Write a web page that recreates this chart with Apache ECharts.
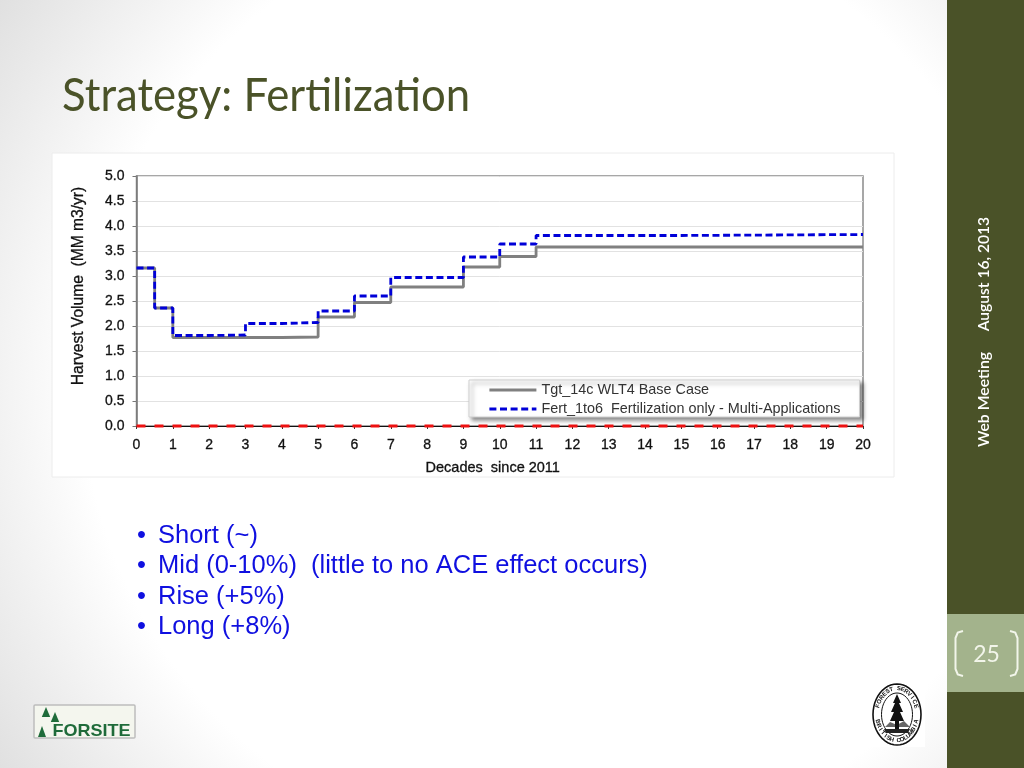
<!DOCTYPE html>
<html><head><meta charset="utf-8">
<style>html,body{margin:0;padding:0;width:1024px;height:768px;overflow:hidden}#c{width:1024px;height:768px}</style>
<script src="https://cdn.jsdelivr.net/npm/echarts@6/dist/echarts.min.js"></script>
</head><body><div id="c"></div>
<script>
const titleText = 'Strategy: Fertilization';
const xName = 'Decades  since 2011';
const yName = 'Harvest Volume  (MM m3/yr)';
const baseName = 'Tgt_14c WLT4 Base Case';
const fertName = 'Fert_1to6  Fertilization only - Multi-Applications';
const baseX = [0, 0.5, 1, 4, 5, 6, 7, 9, 10, 11, 20];
const baseY = [3.16, 2.36, 1.77, 1.78, 2.18, 2.47, 2.78, 3.18, 3.39, 3.58, 3.58];
const fertX = [0, 0.5, 1, 2, 3, 4, 5, 6, 7, 9, 10, 11, 15, 20];
const fertY = [3.16, 2.36, 1.81, 1.82, 2.05, 2.07, 2.30, 2.60, 2.97, 3.38, 3.64, 3.81, 3.83, 3.83];
const zeroX = [0, 20];
const zeroY = [0, 0];
const bullets = ['Short (~)', 'Mid (0-10%)  (little to no ACE effect occurs)', 'Rise (+5%)', 'Long (+8%)'];
const dateText = 'August 16, 2013';
const meetingText = 'Web Meeting';
const pageText = '25';

const zip = (a, b) => a.map((v, i) => [v, b[i]]);
const ui = [];
const t = (text, x, y, font, fill, extra, align) => ui.push(Object.assign({
  type: 'text', x, y, silent: true, style: { text, font, fill, textAlign: align || 'left', textVerticalAlign: 'middle' }
}, extra || {}));
const ell = (cx, cy, rx, ry, style) => {
  const pts = [];
  for (let i = 0; i < 48; i++) { const a = i / 48 * Math.PI * 2; pts.push([cx + rx * Math.cos(a), cy + ry * Math.sin(a)]); }
  ui.push({ type: 'polygon', shape: { points: pts }, style });
};

// slide background
ui.push({ type: 'rect', z: -10, shape: { x: 0, y: 0, width: 947, height: 768 }, style: {
  fill: { type: 'radial', x: 0.59, y: 0.5, r: 1, colorStops: [{ offset: 0, color: '#ffffff' }, { offset: 0.62, color: '#ffffff' }, { offset: 0.884, color: '#e0e0e0' }, { offset: 1, color: '#d0d0d0' }] } } });
// sidebar
ui.push({ type: 'rect', z: -9, shape: { x: 947, y: 0, width: 77, height: 768 }, style: { fill: '#4a5228' } });
ui.push({ type: 'rect', z: -9, shape: { x: 947, y: 614, width: 77, height: 78 }, style: { fill: '#a3b38c' } });
[[963, 955.5], [1010, 1017.5]].forEach(b => {
  const m = b[1] + (b[0] - b[1]) * 0.3;
  ui.push({ type: 'polyline', z: -8,
    shape: { points: [[b[0], 631], [m, 632.5], [b[1], 638], [b[1], 669], [m, 674.5], [b[0], 676]] },
    style: { fill: 'none', stroke: '#f2f5ea', lineWidth: 2 } });
});
t(pageText, 986.5, 655, '23px Lato', '#f2f5ea', null, 'center');
t(dateText, 984, 274, '600 15.6px Lato', '#ffffff', { rotation: Math.PI / 2 }, 'center');
t(meetingText, 984, 399.5, '600 15.8px Lato', '#ffffff', { rotation: Math.PI / 2 }, 'center');
// title
t(titleText, 62, 96, '46px Lato', '#4a5228', { scaleX: 0.95 });
// chart panel
ui.push({ type: 'rect', z: -5, shape: { x: 52, y: 153, width: 842, height: 324 }, style: { fill: '#ffffff', stroke: '#ececec', lineWidth: 1 } });
// bullets
bullets.forEach((b, i) => {
  const y = 535.5 + i * 30.6;
  t('•', 137, y, '25.5px "Liberation Sans"', '#1010e0');
  t(b, 158, y, '25.5px "Liberation Sans"', '#1010e0');
});
// Forsite logo
ui.push({ type: 'rect', shape: { x: 34, y: 705, width: 101, height: 33, r: 1 }, style: { fill: '#f4f6ee', stroke: '#bdbdbd', lineWidth: 1.5 } });
[[46, 707, 4.2, 10], [55, 712, 4.2, 10], [42, 726, 4, 11]].forEach(p => ui.push({ type: 'polygon',
  shape: { points: [[p[0] - p[2], p[1] + p[3]], [p[0], p[1]], [p[0] + p[2], p[1] + p[3]]] }, style: { fill: '#1f6b3a' } }));
t('FORSITE', 52.5, 731.5, 'bold 17px "Liberation Sans"', '#1f6b3a', { scaleX: 1.06 });
// BC Forest Service seal
ui.push({ type: 'rect', shape: { x: 870, y: 682, width: 55, height: 65 }, style: { fill: '#ffffff' } });
ell(897, 714.5, 24, 30.5, { fill: '#fff', stroke: '#111', lineWidth: 1.6 });
ell(897, 714.5, 15.5, 21.5, { fill: '#fff', stroke: '#111', lineWidth: 1 });
ui.push({ type: 'polygon', shape: { points: [[885, 727], [890, 722], [897, 725], [904, 721], [910, 727]] }, style: { fill: '#666' } });
ui.push({ type: 'polygon', shape: { points: [[897, 694], [901, 703], [899, 703], [903, 712], [900, 712], [904, 721], [899, 721], [899, 733], [895, 733], [895, 721], [890, 721], [894, 712], [891, 712], [895, 703], [893, 703]] }, style: { fill: '#111' } });
ui.push({ type: 'polygon', shape: { points: [[884, 729], [910, 729], [908, 733], [886, 733]] }, style: { fill: '#222' } });
const ring = (s, a0, a1, rx, ry, flip) => [...s].forEach((ch, i) => {
  const a = a0 + (a1 - a0) * i / (s.length - 1);
  ui.push({ type: 'text', x: 897 + rx * Math.sin(a), y: 714.5 - ry * Math.cos(a), rotation: flip ? Math.PI - a : -a, silent: true,
    style: { text: ch, font: 'bold 6px "Liberation Sans"', fill: '#111', textAlign: 'center', textVerticalAlign: 'middle' } });
});
ring('FOREST SERVICE', -1.25, 1.25, 20, 26);
ring('BRITISH COLUMBIA', Math.PI + 1.3, Math.PI - 1.3, 20, 26, true);

const axisFont = { fontFamily: '"Liberation Sans"', fontSize: 14, color: '#111', textBorderColor: '#111', textBorderWidth: 0.3 };
const chart = echarts.init(document.getElementById('c'), null, { renderer: 'canvas' });
chart.setOption({
  animation: false,
  backgroundColor: 'transparent',
  graphic: ui,
  grid: { left: 136.5, top: 176, width: 726.5, height: 250, show: true, borderColor: '#8a8a8a', borderWidth: 1.5, backgroundColor: 'transparent' },
  legend: {
    data: [baseName, fertName], orient: 'vertical', left: 469, top: 380,
    padding: [3, 19, 1, 19], itemGap: 5, itemWidth: 47, itemHeight: 14, align: 'left', itemStyle: { opacity: 0 },
    lineStyle: { width: 2.8 },
    backgroundColor: '#ffffff', borderColor: '#cfcfcf', borderWidth: 1, shadowColor: 'rgba(0,0,0,0.45)', shadowBlur: 4, shadowOffsetX: 3, shadowOffsetY: 3,
    textStyle: { fontFamily: '"Liberation Sans"', fontSize: 14.4, color: '#333' }
  },
  xAxis: {
    type: 'value', min: 0, max: 20, interval: 1, name: xName, nameLocation: 'middle', nameGap: 34,
    nameTextStyle: Object.assign({}, axisFont, { fontSize: 14.5, padding: [0, 14, 0, 0] }),
    axisLabel: Object.assign({}, axisFont, { margin: 12, hideOverlap: false, showMinLabel: true, showMaxLabel: true }),
    axisLine: { show: true, lineStyle: { color: '#111', width: 1 } },
    axisTick: { show: true, length: 3, inside: false, lineStyle: { color: '#333' } },
    splitLine: { show: false }
  },
  yAxis: {
    type: 'value', min: 0, max: 5, interval: 0.5, name: yName, nameLocation: 'middle', nameGap: 50,
    nameTextStyle: Object.assign({}, axisFont, { fontSize: 15.6, padding: [0, 0, 0, 30] }),
    axisLabel: Object.assign({}, axisFont, { margin: 12, padding: [2, 0, 0, 0], formatter: v => v.toFixed(1) }),
    axisLine: { show: true, lineStyle: { color: '#777', width: 1.5 } },
    axisTick: { show: true, length: 4, lineStyle: { color: '#777' } },
    splitLine: { show: true, lineStyle: { color: '#e2e2e2', width: 1 } }
  },
  series: [
    { name: baseName, type: 'line', step: 'end', symbol: 'none', data: zip(baseX, baseY), z: 3, clip: false,
      itemStyle: { color: '#808080' }, lineStyle: { color: '#808080', width: 2.8 } },
    { name: fertName, type: 'line', step: 'end', symbol: 'none', data: zip(fertX, fertY), z: 4, clip: false,
      itemStyle: { color: '#0000d8' }, lineStyle: { color: '#0000d8', width: 2.8, type: [7, 3.6] } },
    { name: 'Zero', type: 'line', symbol: 'none', data: zip(zeroX, zeroY), z: 2, clip: false,
      itemStyle: { color: '#ee1111' }, lineStyle: { color: '#ee1111', width: 3, type: [9, 9] } }
  ]
});
</script></body></html>
